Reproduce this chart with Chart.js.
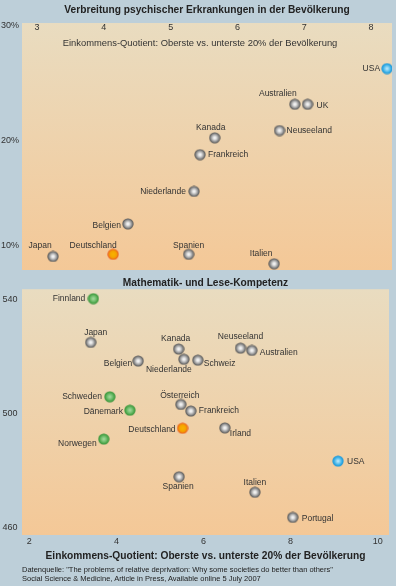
<!DOCTYPE html>
<html lang="de">
<head>
<meta charset="utf-8">
<title>Einkommensungleichheit</title>
<script src="https://cdn.jsdelivr.net/npm/chart.js@4.4.1/dist/chart.umd.min.js"></script>
<style>
    html, body { margin: 0; padding: 0; }
    body {
        width: 396px;
        height: 586px;
        position: relative;
        overflow: hidden;
        background: #bdcfd9;
        font-family: 'Liberation Sans', Arial, sans-serif;
    }
    #mentalChart { position: absolute; left: 0; top: 0; }
    #skillChart { position: absolute; left: 0; top: 276px; }
    .source {
        position: absolute;
        left: 22px;
        top: 565px;
        font-size: 7.5px;
        line-height: 9px;
        color: #222;
        white-space: nowrap;
    }
</style>
</head>
<body>
<canvas id="mentalChart" width="396" height="276"></canvas>
<canvas id="skillChart" width="396" height="290"></canvas>
<div class="source">Datenquelle: "The problems of relative deprivation: Why some societies do better than others"<br>Social Science &amp; Medicine, Article in Press, Available online 5 July 2007</div>

<script>
/* ===================================================== */
/* DATA                                                    */
/* ===================================================== */

const mentalCountries = ['USA', 'Australien', 'UK', 'Neuseeland', 'Kanada', 'Frankreich',
    'Niederlande', 'Belgien', 'Japan', 'Deutschland', 'Spanien', 'Italien'];
const mentalIncome = [8.24, 6.86, 7.05, 6.63, 5.66, 5.44, 5.35, 4.36, 3.24, 4.14, 5.27, 6.55];
const mentalIllness = [26.9, 23.5, 23.5, 21.0, 20.3, 18.7, 15.2, 12.1, 9.0, 9.2, 9.2, 8.3];
const mentalXTicks = [3, 4, 5, 6, 7, 8];
const mentalYTicks = [10, 20, 30];

const skillCountries = ['Finnland', 'Japan', 'Kanada', 'Belgien', 'Niederlande', 'Schweiz',
    'Neuseeland', 'Australien', 'Schweden', 'Dänemark', 'Norwegen', 'Österreich', 'Frankreich',
    'Deutschland', 'Irland', 'USA', 'Spanien', 'Italien', 'Portugal'];
const skillIncome = [3.47, 3.41, 5.43, 4.50, 5.55, 5.87, 6.85, 7.11, 3.85, 4.31, 3.71, 5.48, 5.71,
    5.52, 6.49, 9.09, 5.44, 7.18, 8.05];
const skillScore = [540.2, 524.9, 522.6, 518.4, 519.0, 518.7, 522.9, 522.1, 505.9, 501.2, 491.1,
    503.2, 500.9, 494.9, 495.0, 483.4, 477.9, 472.5, 463.7];
const skillXTicks = [2, 4, 6, 8, 10];
const skillYTicks = [460, 500, 540];

/* ===================================================== */
/* STYLE                                                   */
/* ===================================================== */

const FONT = '"Liberation Sans", Arial, sans-serif';
Chart.defaults.font.family = FONT;
Chart.defaults.color = '#333';

const markerGroup = {
    USA: 'blue',
    Deutschland: 'orange',
    Finnland: 'green',
    Schweden: 'green',
    'Dänemark': 'green',
    Norwegen: 'green'
};

// label offset from the dot: [dx, dy, textAlign]
const mentalLabelPos = {
    USA: [-7, 0, 'right'],
    Australien: [-17, -11, 'center'],
    UK: [9, 1, 'left'],
    Neuseeland: [7, 0, 'left'],
    Kanada: [-4, -10, 'center'],
    Frankreich: [8, 0, 'left'],
    Niederlande: [-8, 0, 'right'],
    Belgien: [-7, 2, 'right'],
    Japan: [-13, -11, 'center'],
    Deutschland: [-20, -9, 'center'],
    Spanien: [0, -9, 'center'],
    Italien: [-13, -10, 'center']
};

const skillLabelPos = {
    Finnland: [-8, 0, 'right'],
    Japan: [5, -10, 'center'],
    Kanada: [-3, -10, 'center'],
    Belgien: [-6, 3, 'right'],
    Niederlande: [-15, 10, 'center'],
    Schweiz: [6, 4, 'left'],
    Neuseeland: [0, -11, 'center'],
    Australien: [8, 2, 'left'],
    Schweden: [-8, 0, 'right'],
    'Dänemark': [-7, 1, 'right'],
    Norwegen: [-7, 5, 'right'],
    'Österreich': [-1, -9, 'center'],
    Frankreich: [8, 0, 'left'],
    Deutschland: [-7, 1, 'right'],
    Irland: [5, 6, 'left'],
    USA: [9, 1, 'left'],
    Spanien: [-1, 10, 'center'],
    Italien: [0, -10, 'center'],
    Portugal: [9, 1, 'left']
};

/* ===================================================== */
/* HELPERS                                                 */
/* ===================================================== */

function makeBall(stops) {
    const c = document.createElement('canvas');
    c.width = 12;
    c.height = 12;
    const g = c.getContext('2d');
    const grad = g.createRadialGradient(6, 6, 0, 6, 6, 5.6);
    stops.forEach(([o, col]) => grad.addColorStop(o, col));
    g.fillStyle = grad;
    g.beginPath();
    g.arc(6, 6, 5.6, 0, Math.PI * 2);
    g.fill();
    return c;
}

const balls = {
    gray: makeBall([[0, '#ffffff'], [0.3, '#dcdcdc'], [0.65, '#9a9a9a'], [0.85, '#6d6d6d'], [1, '#4f4f4f']]),
    blue: makeBall([[0, '#c6ecfb'], [0.35, '#7fd0f3'], [0.75, '#2ea9e4'], [1, '#1d92d2']]),
    orange: makeBall([[0, '#f8b400'], [0.6, '#f5a300'], [0.8, '#f07c14'], [1, '#e9561c']]),
    green: makeBall([[0, '#a9dca2'], [0.45, '#76c172'], [0.8, '#47a347'], [1, '#3a8f3a']])
};

function ballsFor(names) {
    return names.map(n => balls[markerGroup[n] || 'gray']);
}

function fixedTicks(values) {
    return axis => { axis.ticks = values.map(v => ({ value: v })); };
}

// fixed axis size, and no extra room for labels hanging over the plot edges
function fixedSize(prop, size) {
    return s => {
        s[prop] = size;
        s.paddingTop = s.paddingBottom = s.paddingLeft = s.paddingRight = 0;
    };
}

const plotBackground = {
    id: 'plotBackground',
    beforeDraw(chart) {
        const { ctx, chartArea: a } = chart;
        const g = ctx.createLinearGradient(0, a.top, 0, a.bottom);
        g.addColorStop(0, '#e9dcc0');
        g.addColorStop(1, '#f4c897');
        ctx.save();
        ctx.fillStyle = g;
        ctx.fillRect(a.left, a.top, a.width, a.height);
        ctx.restore();
    }
};

function labelPlugin(names, placement) {
    return {
        id: 'countryLabels',
        afterDatasetsDraw(chart) {
            const ctx = chart.ctx;
            const points = chart.getDatasetMeta(0).data;
            ctx.save();
            ctx.font = '8.5px ' + FONT;
            ctx.fillStyle = '#333';
            ctx.textBaseline = 'middle';
            points.forEach((pt, i) => {
                const [dx, dy, align] = placement[names[i]];
                ctx.textAlign = align;
                ctx.fillText(names[i], pt.x + dx, pt.y + dy);
            });
            ctx.restore();
        }
    };
}

// x ticks + title of the upper chart sit inside the plot area
const innerXAxis = {
    id: 'innerXAxis',
    afterDatasetsDraw(chart) {
        const { ctx, chartArea: a } = chart;
        const x = chart.scales.x;
        ctx.save();
        ctx.fillStyle = '#333';
        ctx.textAlign = 'center';
        ctx.textBaseline = 'middle';
        ctx.font = '9px ' + FONT;
        mentalXTicks.forEach(v => ctx.fillText(String(v), x.getPixelForValue(v), a.top + 4));
        ctx.font = '9.4px ' + FONT;
        ctx.fillText('Einkommens-Quotient: Oberste vs. unterste 20% der Bevölkerung', a.left + 178, a.top + 20);
        ctx.restore();
    }
};

/* ===================================================== */
/* MENTAL ILLNESS CHART                                    */
/* ===================================================== */

new Chart(document.getElementById('mentalChart'), {
    type: 'scatter',
    data: {
        datasets: [{
            data: mentalIncome.map((v, i) => ({ x: v, y: mentalIllness[i] })),
            pointStyle: ballsFor(mentalCountries)
        }]
    },
    options: {
        responsive: false,
        animation: false,
        events: [],
        layout: { autoPadding: false, padding: { left: 0, right: 4, top: 0, bottom: 6 } },
        plugins: {
            legend: { display: false },
            tooltip: { enabled: false },
            title: {
                display: true,
                fullSize: false,
                text: 'Verbreitung psychischer Erkrankungen in der Bevölkerung',
                color: '#222',
                font: { size: 10.2, weight: 'bold' },
                padding: { top: 4, bottom: 6.8 }
            }
        },
        scales: {
            x: {
                type: 'linear',
                display: false,
                min: 2.775,
                max: 8.314
            },
            y: {
                min: 7.71,
                max: 31.24,
                afterBuildTicks: fixedTicks(mentalYTicks),
                afterFit: fixedSize('width', 22),
                grid: { display: false, drawTicks: false },
                border: { display: false },
                ticks: {
                    padding: 3,
                    font: { size: 9 },
                    // the 30% label sits flush with the top edge in the original
                    callback: v => v === 30 ? [v + '%', '', ''] : v + '%'
                }
            }
        }
    },
    plugins: [plotBackground, innerXAxis, labelPlugin(mentalCountries, mentalLabelPos)]
});

/* ===================================================== */
/* MATH + READING CHART                                    */
/* ===================================================== */

new Chart(document.getElementById('skillChart'), {
    type: 'scatter',
    data: {
        datasets: [{
            data: skillIncome.map((v, i) => ({ x: v, y: skillScore[i] })),
            pointStyle: ballsFor(skillCountries)
        }]
    },
    options: {
        responsive: false,
        animation: false,
        events: [],
        layout: { autoPadding: false, padding: { left: 0, right: 7, top: 0, bottom: 0 } },
        plugins: {
            legend: { display: false },
            tooltip: { enabled: false },
            title: {
                display: true,
                fullSize: false,
                text: 'Mathematik- und Lese-Kompetenz',
                color: '#222',
                font: { size: 10.2, weight: 'bold' },
                padding: { top: 1, bottom: 0 }
            }
        },
        scales: {
            x: {
                type: 'linear',
                min: 1.832,
                max: 10.26,
                afterBuildTicks: fixedTicks(skillXTicks),
                afterFit: fixedSize('height', 31),
                grid: { display: false, drawTicks: false },
                border: { display: false },
                ticks: { padding: 1, font: { size: 9 } },
                title: {
                    display: true,
                    text: 'Einkommens-Quotient: Oberste vs. unterste 20% der Bevölkerung',
                    color: '#222',
                    font: { size: 10.2, weight: 'bold' },
                    padding: { top: 0, bottom: 4 }
                }
            },
            y: {
                min: 457.55,
                max: 543.5,
                afterBuildTicks: fixedTicks(skillYTicks),
                afterFit: fixedSize('width', 22),
                grid: { display: false, drawTicks: false },
                border: { display: false },
                ticks: { padding: 4.5, font: { size: 9 } }
            }
        }
    },
    plugins: [plotBackground, labelPlugin(skillCountries, skillLabelPos)]
});
</script>
</body>
</html>
